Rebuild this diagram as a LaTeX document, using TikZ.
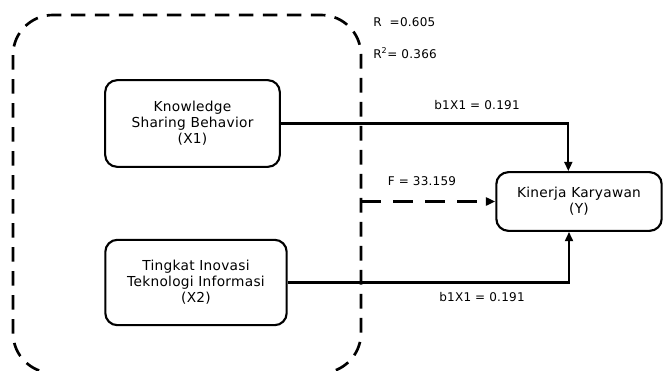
\documentclass[tikz,border=0pt]{standalone}
\usepackage{fontspec}
\setmainfont{DejaVu Sans}[LetterSpace=2]
\usetikzlibrary{arrows.meta}

\begin{document}
\begin{tikzpicture}[x=0.75pt,y=-0.75pt]
		\tikzstyle{boite}=[draw, line width=1.6pt, rounded corners=9pt, align=center, font=\fontsize{10.3}{12}\selectfont]
		\tikzstyle{etiquette}=[font=\fontsize{9}{11}\selectfont, inner sep=0pt]
		\tikzstyle{fleche}=[line width=1.6pt, -{Triangle[length=7pt,width=6pt]}]
		\useasboundingbox (0,0) rectangle (664,371);
		\draw[line width=2pt, dash pattern=on 11pt off 7pt, rounded corners=30pt] (13,15) rectangle (361,373); % cadre
		\node[boite, minimum width=131pt, minimum height=65pt] (ksb) at (192.5,123.5) {Knowledge\\Sharing Behavior\\(X1)}; % haut
		\node[boite, minimum width=136pt, minimum height=64pt] (tit) at (196,282.5) {Tingkat Inovasi\\Teknologi Informasi\\(X2)}; % bas
		\node[boite, minimum width=124pt, minimum height=44pt] (kin) at (579,201.5) {Kinerja Karyawan\\(Y)}; % droite
		\coordinate (depart) at (361,201.5);
		\draw[fleche] (ksb.east) -| ([xshift=-8pt]kin.north);
		\draw[fleche] (tit.east) -| ([xshift=-7.5pt]kin.south);
		\draw[fleche, line width=2.2pt, dash pattern=on 15pt off 9pt] (depart) -- (kin.west);
		\node[etiquette, anchor=west] (r) at (373,22) {R\ \ =0.605};
		\node[etiquette, anchor=west] (rdeux) at (373,53) {R\textsuperscript{2}= 0.366};
		\node[etiquette] (bun) at (477,105) {b1X1 = 0.191};
		\node[etiquette] (f) at (422,181) {F = 33.159};
		\node[etiquette] (bdeux) at (482,297) {b1X1 = 0.191};
	\end{tikzpicture}
\end{document}
